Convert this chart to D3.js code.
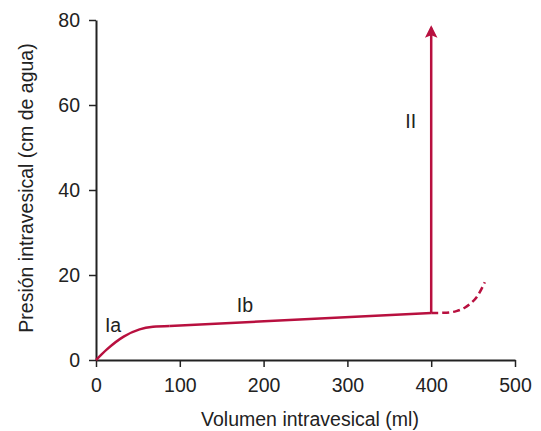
<!DOCTYPE html>
<html><head><meta charset="utf-8">
<script src="https://cdn.jsdelivr.net/npm/d3@7"></script>
<style>body{margin:0;background:#fff}svg{display:block}text{font-family:"Liberation Sans",Arial,sans-serif}</style>
</head><body>
<svg id="c" width="541" height="431"></svg>
<script>
const xTicks=[0,100,200,300,400,500];
const yTicks=[0,20,40,60,80];
const curveIa=[[0,0],[13,2.5],[33,5.5],[52,7.2],[68,7.8],[88,8.0]];
const lineIb=[[88,8.0],[400,11.05]];
const dashed=[[400,11.05],[415,11.1],[430,11.5],[440,12.3],[447,13.3],[455,15.0],[464,18.3]];
const arrowII=[[400,11.05],[400,78.2]];
const labels=[{t:"Ia",x:10.7,y:6.66},{t:"Ib",x:168,y:11.2},{t:"II",x:369,y:54.6}];
const col="#b8103f";
const svg=d3.select("#c");
const x=d3.scaleLinear().domain([0,500]).range([96,515]);
const y=d3.scaleLinear().domain([0,80]).range([360,20]);
const ax=svg.append("g").attr("transform","translate(0,360)").call(d3.axisBottom(x).tickValues(xTicks).tickSize(7).tickSizeOuter(0).tickPadding(11));
const ay=svg.append("g").attr("transform","translate(96,0)").call(d3.axisLeft(y).tickValues(yTicks).tickSize(7).tickSizeOuter(0).tickPadding(9));
[ax,ay].forEach(a=>{a.select(".domain").attr("stroke","#222").attr("stroke-width",2);a.selectAll(".tick line").attr("stroke","#222").attr("stroke-width",1.5);a.selectAll("text").attr("font-size",19.5).attr("fill","#222").style("font-family","Liberation Sans, Arial, sans-serif");});
const ln=d3.line().x(d=>x(d[0])).y(d=>y(d[1]));
svg.append("path").attr("d",d3.line().x(d=>x(d[0])).y(d=>y(d[1])).curve(d3.curveMonotoneX)(curveIa)).attr("fill","none").attr("stroke",col).attr("stroke-width",2.5);
svg.append("path").attr("d",ln(lineIb)).attr("fill","none").attr("stroke",col).attr("stroke-width",2.5);
svg.append("path").attr("d",d3.line().x(d=>x(d[0])).y(d=>y(d[1])).curve(d3.curveMonotoneX)(dashed)).attr("fill","none").attr("stroke",col).attr("stroke-width",2.5).attr("stroke-dasharray","7,4");
svg.append("defs").append("marker").attr("id","ah").attr("viewBox","0 0 10 10").attr("refX",8).attr("refY",5).attr("markerWidth",5).attr("markerHeight",6).attr("markerUnits","strokeWidth").attr("orient","auto")
 .append("path").attr("d","M0,0 L10,5 L0,10 L2,5 Z").attr("fill",col);
svg.append("path").attr("d",ln(arrowII)).attr("fill","none").attr("stroke",col).attr("stroke-width",2.5).attr("marker-end","url(#ah)");
svg.selectAll(".lab").data(labels).enter().append("text").attr("class","lab").attr("x",d=>x(d.x)).attr("y",d=>y(d.y)).attr("font-size",19.5).attr("fill","#222").text(d=>d.t);
svg.append("text").attr("x",310).attr("y",426).attr("text-anchor","middle").attr("font-size",19.5).attr("fill","#222").text("Volumen intravesical (ml)");
svg.append("text").attr("transform","translate(33,188) rotate(-90)").attr("text-anchor","middle").attr("font-size",19.5).attr("fill","#222").text("Presión intravesical (cm de agua)");
</script>
</body></html>
